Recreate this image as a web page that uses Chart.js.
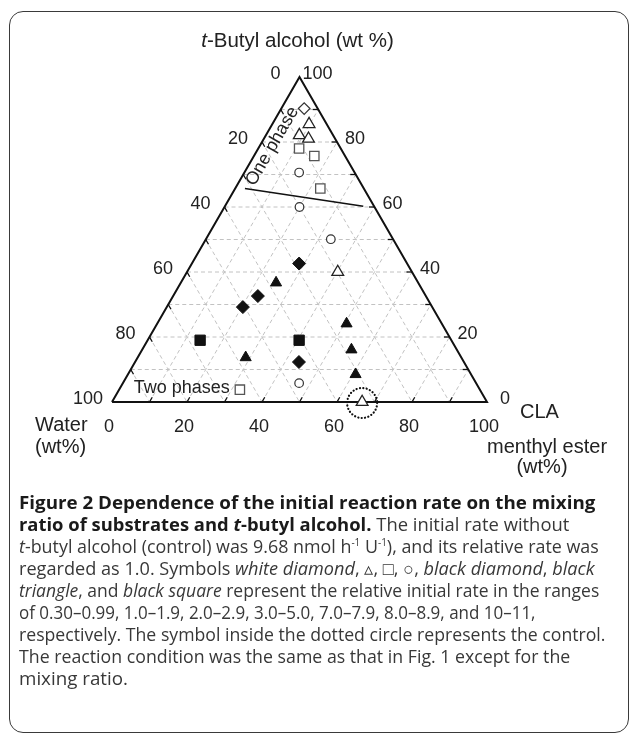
<!DOCTYPE html>
<html><head><meta charset="utf-8">
<script src="https://cdn.jsdelivr.net/npm/chart.js@4.4.1/dist/chart.umd.min.js"></script>
<style>
html,body{margin:0;padding:0;background:#fff;}
body{width:629px;height:734px;position:relative;overflow:hidden;}
#frame{position:absolute;left:9px;top:11px;width:620px;height:722px;border:1.5px solid #3a3a3a;border-radius:14px;box-sizing:border-box;}
#wrap{position:absolute;left:0;top:0;width:629px;height:480px;}
#caption{position:absolute;left:19px;top:0;width:600px;height:734px;font-family:"Open Sans","Noto Sans",sans-serif;font-size:18px;color:#383838;}
.ln{position:absolute;left:0;white-space:nowrap;transform-origin:0 50%;line-height:22px;height:22px;}
.b{font-weight:700;color:#1a1a1a;}
sup{font-size:10px;vertical-align:7px;line-height:0;}
</style></head>
<body>
<div id="frame"></div>
<div id="wrap"><canvas id="c" width="629" height="480"></canvas></div>
<div id="caption">
<div class="ln b" data-r="606">Figure 2 Dependence of the initial reaction rate on the mixing</div>
<div class="ln" data-r="569"><span class="b">ratio of substrates and <i>t</i>-butyl alcohol.</span> The initial rate without</div>
<div class="ln" data-r="599"><i>t</i>-butyl alcohol (control) was 9.68 nmol h<sup>-1</sup> U<sup>-1</sup>), and its relative rate was</div>
<div class="ln" data-r="595">regarded as 1.0. Symbols <i>white diamond</i>, ▵, □, ○, <i>black diamond</i>, <i>black</i></div>
<div class="ln" data-r="599"><i>triangle</i>, and <i>black square</i> represent the relative initial rate in the ranges</div>
<div class="ln" data-r="523">of 0.30–0.99, 1.0–1.9, 2.0–2.9, 3.0–5.0, 7.0–7.9, 8.0–8.9, and 10–11,</div>
<div class="ln" data-r="605">respectively. The symbol inside the dotted circle represents the control.</div>
<div class="ln" data-r="570">The reaction condition was the same as that in Fig. 1 except for the</div>
<div class="ln" data-r="163">mixing ratio.</div>
</div>
<script>
// ---- data: each point is [t-butyl alcohol wt%, CLA menthyl ester wt%]; water = 100 - both
const gridSteps = [10, 20, 30, 40, 50, 60, 70, 80, 90];
const waterTickLabels = ['0', '20', '40', '60', '80', '100'];   // left edge, apex -> bottom-left
const tbaTickLabels   = ['0', '20', '40', '60', '80', '100'];   // right edge, bottom-right -> apex
const claTickLabels   = ['0', '20', '40', '60', '80', '100'];   // bottom edge, left -> right

const whiteDiamond  = [[90.3, 6.1]];
const whiteTriangle = [[85.5, 9.8], [82.1, 8.9], [81.0, 11.9], [40.0, 40.2]];
const whiteSquare   = [[78.0, 10.9], [75.7, 16.1], [65.7, 22.7], [3.8, 32.2]];
const whiteCircle   = [[70.6, 14.6], [60.0, 20.0], [50.1, 33.3], [5.8, 47.0]];
const blackDiamond  = [[42.6, 28.6], [32.6, 22.6], [29.2, 20.3], [12.3, 43.7]];
const blackTriangle = [[36.7, 25.4], [24.1, 50.5], [16.1, 55.8], [13.7, 28.8], [8.5, 60.7]];
const blackSquare   = [[19.0, 14.0], [19.0, 40.4]];
const controlPoint  = [[0, 66.7]];
const phaseBoundary = [[65.7, 2.6], [60.2, 36.9]];
const onePhaseAnchor = [78.7, 3.4];
const twoPhaseAnchor = [4.4, 16.4];

const S3 = Math.sqrt(3) / 2;
function tern(t, c) { return { x: c + t / 2, y: t * S3 }; }
function pts(arr) { return arr.map(p => tern(p[0], p[1])); }
const GAP = { x: null, y: null };

function segs(list) { const out = []; list.forEach(s => { out.push(tern(s[0][0], s[0][1]), tern(s[1][0], s[1][1]), GAP); }); return out; }
const gridT = segs(gridSteps.map(v => [[v, 0], [v, 100 - v]]));
const gridC = segs(gridSteps.map(v => [[0, v], [100 - v, v]]));
const gridW = segs(gridSteps.map(v => [[100 - v, 0], [0, 100 - v]]));
const outline = pts([[0, 0], [0, 100], [100, 0], [0, 0]]);

function lineDs(data, color, width, dash, order) {
  return { type: 'scatter', data, showLine: true, borderColor: color, borderWidth: width, borderDash: dash,
    pointRadius: 0, spanGaps: false, fill: false, order, clip: false };
}
function markDs(arr, style, r, bg, bc, bw) {
  return { data: pts(arr), pointStyle: style, pointRadius: r, backgroundColor: bg, borderColor: bc,
    pointBorderWidth: bw, showLine: false, order: 0, clip: false };
}

const FONT = '"Liberation Sans", Arial, Helvetica, sans-serif';

const ternaryPlugin = {
  id: 'ternary',
  afterDatasetsDraw(chart) {
    const { ctx, scales: { x, y } } = chart;
    const P = (t, c) => { const q = tern(t, c); return [x.getPixelForValue(q.x), y.getPixelForValue(q.y)]; };
    ctx.save();
    ctx.strokeStyle = '#111'; ctx.lineWidth = 1.3; ctx.setLineDash([]);
    const L = 5.5;
    function tick(a, b) {
      const dx = b[0] - a[0], dy = b[1] - a[1], d = Math.hypot(dx, dy);
      ctx.beginPath(); ctx.moveTo(a[0], a[1]); ctx.lineTo(a[0] + dx / d * L, a[1] + dy / d * L); ctx.stroke();
    }
    gridSteps.forEach(v => {
      tick(P(0, v), P(100 - v, v));
      tick(P(v, 100 - v), P(v, 0));
      tick(P(100 - v, 0), P(0, 100 - v));
    });
    const cp = P(controlPoint[0][0], controlPoint[0][1]);
    ctx.beginPath(); ctx.lineWidth = 2.2; ctx.lineCap = 'round'; ctx.setLineDash([0.1, 3.3]);
    ctx.strokeStyle = '#111';
    ctx.arc(cp[0], cp[1] + 1, 15, 0, Math.PI * 2); ctx.stroke();
    ctx.setLineDash([]); ctx.lineCap = 'butt';

    ctx.fillStyle = '#222';
    ctx.textBaseline = 'middle';
    ctx.font = '18px ' + FONT; ctx.textAlign = 'center';
    waterTickLabels.forEach(s => { const v = +s; const p = P(100 - v, 0); ctx.fillText(s, p[0] - 24, p[1] - 3); });
    tbaTickLabels.forEach(s => { const v = +s; const p = P(v, 100 - v); ctx.fillText(s, p[0] + 18, p[1] - 3); });
    claTickLabels.forEach(s => { const v = +s; const p = P(0, v); ctx.fillText(s, p[0] - 3, p[1] + 25); });

    const apex = P(100, 0), bl = P(0, 0), br = P(0, 100);
    const f1 = 'italic 20.5px ' + FONT, f2 = '20.5px ' + FONT;
    ctx.font = f1; const w1 = ctx.measureText('t').width;
    ctx.font = f2; const w2 = ctx.measureText('-Butyl alcohol (wt %)').width;
    let sx = apex[0] - 2 - (w1 + w2) / 2;
    ctx.textAlign = 'left';
    ctx.font = f1; ctx.fillText('t', sx, apex[1] - 36);
    ctx.font = f2; ctx.fillText('-Butyl alcohol (wt %)', sx + w1, apex[1] - 36);
    ctx.font = '20px ' + FONT;
    ctx.fillText('Water', bl[0] - 77, bl[1] + 23.5);
    ctx.fillText('(wt%)', bl[0] - 77, bl[1] + 45);
    ctx.fillText('CLA', br[0] + 33, br[1] + 10.6);
    ctx.fillText('menthyl ester', br[0], br[1] + 45);
    ctx.textAlign = 'center';
    ctx.fillText('(wt%)', br[0] + 55, br[1] + 65.5);
    ctx.font = '18px ' + FONT;
    const op = P(onePhaseAnchor[0], onePhaseAnchor[1]);
    ctx.save(); ctx.translate(op[0], op[1]); ctx.rotate(-Math.PI / 3);
    ctx.fillText('One phase', 0, 0); ctx.restore();
    const tp = P(twoPhaseAnchor[0], twoPhaseAnchor[1]);
    ctx.fillText('Two phases', tp[0], tp[1]);
    ctx.restore();
  }
};

new Chart(document.getElementById('c'), {
  type: 'scatter',
  data: {
    datasets: [
      markDs(whiteDiamond, 'rectRot', 5.8, '#fff', '#333', 1.2),
      markDs(whiteTriangle, 'triangle', 6.8, '#fff', '#222', 1.3),
      markDs(whiteSquare, 'rect', 6.6, '#fff', '#555', 1.3),
      markDs(whiteCircle, 'circle', 4.3, '#fff', '#333', 1.2),
      markDs(blackDiamond, 'rectRot', 6.5, '#111', '#111', 1),
      markDs(blackTriangle, 'triangle', 6.4, '#111', '#111', 1),
      markDs(blackSquare, 'rect', 7.3, '#111', '#111', 1),
      markDs(controlPoint, 'triangle', 6.8, '#fff', '#222', 1.3),
      lineDs(pts(phaseBoundary), '#111', 1.5, [], 5),
      lineDs(outline, '#111', 2, [], 6),
      lineDs(gridT, '#c2c2c2', 1, [4, 3], 10),
      lineDs(gridC, '#c2c2c2', 1, [4, 3], 10),
      lineDs(gridW, '#c2c2c2', 1, [4, 3], 10)
    ]
  },
  options: {
    responsive: false, animation: false, events: [],
    devicePixelRatio: 1,
    layout: { padding: { left: 112, right: 142, top: 77, bottom: 78 } },
    scales: {
      x: { type: 'linear', min: 0, max: 100, display: false },
      y: { type: 'linear', min: 0, max: 100 * S3, display: false }
    },
    plugins: { legend: { display: false }, tooltip: { enabled: false } }
  },
  plugins: [ternaryPlugin]
});

const lineCenter0 = 502, lineStep = 22;
function fitCaption() {
  const els = Array.from(document.querySelectorAll('#caption .ln'));
  const scales = els.map((el, i) => {
    el.style.top = (lineCenter0 + i * lineStep - 11) + 'px';
    el.style.transform = 'none';
    const w = el.scrollWidth;
    return w > 0 ? ((+el.dataset.r) - 19) / w : 1;
  });
  const sorted = scales.slice(0, -1).sort((a, b) => a - b);
  const med = sorted[Math.floor(sorted.length / 2)];
  els.forEach((el, i) => {
    const s = Math.min(med * 1.05, Math.max(med * 0.95, scales[i]));
    el.style.transform = 'scaleX(' + s + ')';
  });
}
fitCaption();
if (document.fonts && document.fonts.ready) document.fonts.ready.then(fitCaption);
</script>
</body></html>
